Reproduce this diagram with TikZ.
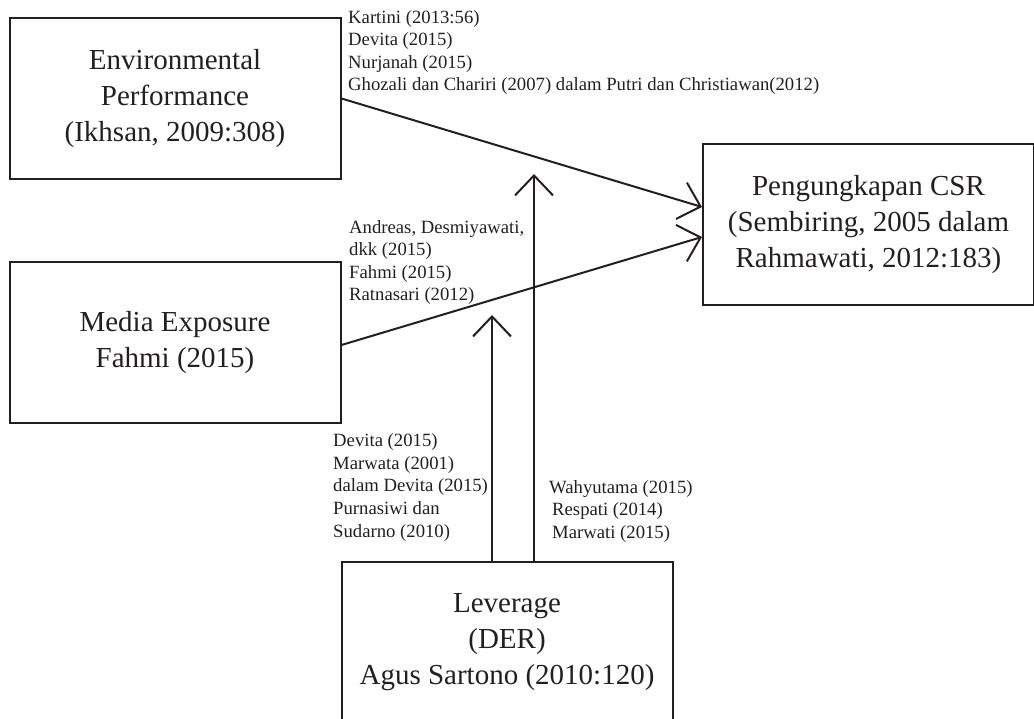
\documentclass[tikz,border=0pt]{standalone}
\usepackage{fontspec}
\setmainfont{Liberation Serif}
\usetikzlibrary{arrows.meta}
\definecolor{ink}{HTML}{231F20}
\begin{document}
\begin{tikzpicture}[x=1pt,y=-1pt,
  box/.style={draw=ink, line width=2pt, minimum width=331pt, minimum height=161pt, inner sep=0pt, align=center, font=\fontsize{29}{36}\selectfont, text=ink},
  refs/.style={anchor=north west, inner sep=0pt, align=left, font=\fontsize{18.7}{22.6}\selectfont, text=ink},
  link/.style={draw=ink, line width=2pt, -{Straight Barb[length=20pt,width=38pt]}}]
\useasboundingbox (0,0) rectangle (1034,719);
\clip (0,0) rectangle (1034,719);
\node[box] (env) at (175,98.5) {Environmental\\Performance\\(Ikhsan, 2009:308)};
\node[box] (media) at (175,342.5) {Media Exposure\\Fahmi (2015)};
\node[box] (csr) at (868.5,224.5) {Pengungkapan CSR\\(Sembiring, 2005 dalam\\Rahmawati, 2012:183)};
\node[box] (lev) at (507,642.5) {Leverage\\(DER)\\Agus Sartono (2010:120)};
\node[refs] (r1) at (348,10) {Kartini (2013:56)\\Devita (2015)\\Nurjanah (2015)\\Ghozali dan Chariri (2007) dalam Putri dan Christiawan(2012)};
\node[refs] (r2) at (349,220) {Andreas, Desmiyawati,\\dkk (2015)\\Fahmi (2015)\\Ratnasari (2012)};
\node[refs] (r3) at (333,433.5) {Devita (2015)\\Marwata (2001)\\dalam Devita (2015)\\Purnasiwi dan\\Sudarno (2010)};
\node[refs] (r4) at (549,480) {Wahyutama (2015)\\\hspace*{3pt}Respati (2014)\\\hspace*{3pt}Marwati (2015)};
\coordinate (t1) at (492,315);
\coordinate (t2) at (534,174);
\draw[link] (env.east) -- ([yshift=17.5pt]csr.west);
\draw[link] ([yshift=-2.5pt]media.east) -- ([yshift=-12.5pt]csr.west);
\draw[link] ([xshift=-15pt]lev.north) -- (t1);
\draw[link] ([xshift=27pt]lev.north) -- (t2);
\end{tikzpicture}
\end{document}
